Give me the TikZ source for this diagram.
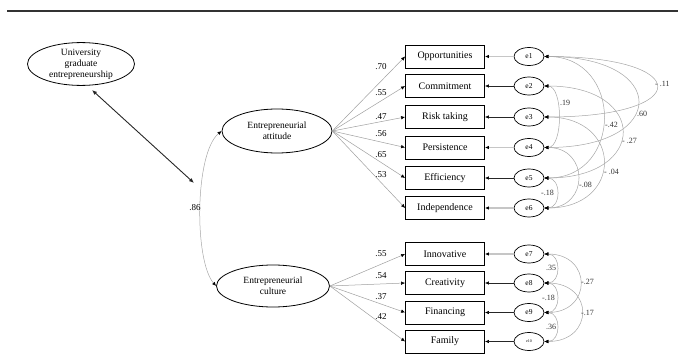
\documentclass[tikz,border=0pt]{standalone}
\usepackage{fontspec}
\setmainfont{Liberation Serif}
\usetikzlibrary{shapes.geometric,arrows.meta}
\begin{document}
\begin{tikzpicture}[x=1pt,y=-1pt,
  obs/.style={draw,line width=0.8pt,minimum width=79pt,minimum height=23pt,inner sep=0pt,font=\fontsize{10}{12}\selectfont},
  lat/.style={draw,ellipse,line width=0.8pt,inner sep=0pt,align=center,font=\fontsize{9.5}{11}\selectfont},
  err/.style={draw,ellipse,line width=0.7pt,minimum width=30pt,minimum height=18pt,inner sep=0pt,font=\fontsize{7.5}{9}\selectfont},
  tipa/.style={-{Latex[length=4pt,width=3.5pt,color=black]}},
  load/.style={tipa,draw=gray!75,line width=0.5pt},
  erlight/.style={tipa,draw=gray!45,line width=1.3pt},
  erdark/.style={tipa,draw=black!85,line width=0.6pt},
  cov/.style={{Latex[length=4pt,width=3.5pt,color=black]}-{Latex[length=4pt,width=3.5pt,color=black]},draw=gray!70,line width=0.5pt},
  lbl/.style={inner sep=0pt,font=\fontsize{9}{10}\selectfont},
  clbl/.style={inner sep=0pt,anchor=west,font=\fontsize{8}{9}\selectfont,text=black!80},
]
\useasboundingbox (0,0) rectangle (678,361);
\draw[line width=2pt,black!80] (7,11) -- (678,11);

% latent variables
\node[lat,minimum width=107pt,minimum height=38pt] (uge) at (81,64) {University\\graduate\\entrepreneurship};
\node[lat,minimum width=110pt,minimum height=44pt] (att) at (277,131) {Entrepreneurial\\attitude};
\node[lat,minimum width=113pt,minimum height=42pt] (cul) at (273,286) {Entrepreneurial\\culture};

% observed
\node[obs] (opp) at (445,56.5) {Opportunities};
\node[obs] (com) at (445,86) {Commitment};
\node[obs] (ris) at (445,117) {Risk taking};
\node[obs] (per) at (445,147.5) {Persistence};
\node[obs] (eff) at (445,178) {Efficiency};
\node[obs] (ind) at (445,208) {Independence};
\node[obs] (inn) at (445,254) {Innovative};
\node[obs] (cre) at (445,283) {Creativity};
\node[obs] (fin) at (445,312.5) {Financing};
\node[obs] (fam) at (445,341.5) {Family};

% errors
\node[err] (e1) at (529,56.5) {e1};
\node[err] (e2) at (529,86) {e2};
\node[err] (e3) at (529,117) {e3};
\node[err] (e4) at (529,147.5) {e4};
\node[err] (e5) at (529,178) {e5};
\node[err] (e6) at (529,208) {e6};
\node[err] (e7) at (529,254) {e7};
\node[err] (e8) at (529,283) {e8};
\node[err] (e9) at (529,312.5) {e9};
\node[err,font=\fontsize{4}{5}\selectfont] (e10) at (529,341.5) {e10};

% double arrow
\coordinate (dA1) at (92,90);
\coordinate (dA2) at (194,183);
\draw[{Latex[length=5pt,width=4pt]}-{Latex[length=5pt,width=4pt]},line width=0.9pt,black!85] (dA1) -- (dA2);

% correlation between latents
\draw[cov] (att.west) .. controls +(-27,22) and +(-22,-25) .. (cul.west);
\node[lbl] (l86) at (195,208) {.86};

% loadings
\foreach \b in {opp,com,ris,per,eff,ind} \draw[load] (att.east) -- (\b.west);
\foreach \b in {inn,cre,fin,fam} \draw[load] (cul.east) -- (\b.west);
\node[lbl] (l1) at (381,67) {.70};
\node[lbl] (l2) at (381,93) {.55};
\node[lbl] (l3) at (381,117) {.47};
\node[lbl] (l4) at (381,134) {.56};
\node[lbl] (l5) at (381,155) {.65};
\node[lbl] (l6) at (381,175) {.53};
\node[lbl] (l7) at (381,254) {.55};
\node[lbl] (l8) at (381,276) {.54};
\node[lbl] (l9) at (381,297) {.37};
\node[lbl] (l10) at (381,317) {.42};

% error arrows
\draw[erlight] (e1) -- (opp);
\draw[erdark] (e2) -- (com);
\draw[erdark] (e3) -- (ris);
\draw[erlight] (e4) -- (per);
\draw[erdark] (e5) -- (eff);
\draw[erlight] (e6) -- (ind);
\draw[erlight] (e7) -- (inn);
\draw[erdark] (e8) -- (cre);
\draw[erdark] (e9) -- (fin);
\draw[erdark] (e10) -- (fam);

% covariances
\draw[cov] (e1.east) .. controls +(150,0) and +(150,0) .. (e3.east);
\draw[cov] (e1.east) .. controls +(125,0) and +(125,0) .. (e4.east);
\draw[cov] (e1.east) .. controls +(79,0) and +(79,0) .. (e5.east);
\draw[cov] (e2.east) .. controls +(104,0) and +(104,0) .. (e5.east);
\draw[cov] (e2.east) .. controls +(19,0) and +(19,0) .. (e4.east);
\draw[cov] (e3.east) .. controls +(79,0) and +(79,0) .. (e6.east);
\draw[cov] (e4.east) .. controls +(45,0) and +(45,0) .. (e6.east);
\draw[cov] (e5.east) .. controls +(17,0) and +(17,0) .. (e6.east);
\draw[cov] (e7.east) .. controls +(17,0) and +(17,0) .. (e8.east);
\draw[cov] (e8.east) .. controls +(17,0) and +(17,0) .. (e9.east);
\draw[cov] (e9.east) .. controls +(17,0) and +(17,0) .. (e10.east);
\draw[cov] (e7.east) .. controls +(48,0) and +(48,0) .. (e9.east);
\draw[cov] (e8.east) .. controls +(50,0) and +(50,0) .. (e10.east);

\node[clbl] (c1) at (655,84) {- .11};
\node[clbl] (c2) at (637,114) {.60};
\node[clbl] (c3) at (605,125) {-.42};
\node[clbl] (c4) at (622,141) {- .27};
\node[clbl] (c5) at (560,103) {.19};
\node[clbl] (c6) at (604,172) {- .04};
\node[clbl] (c7) at (579,185) {-.08};
\node[clbl] (c8) at (541,193) {-.18};
\node[clbl] (c9) at (546,268) {.35};
\node[clbl] (c10) at (542,298) {-.18};
\node[clbl] (c11) at (546,327) {.36};
\node[clbl] (c12) at (581,282) {-.27};
\node[clbl] (c13) at (581,313) {-.17};
\end{tikzpicture}
\end{document}
